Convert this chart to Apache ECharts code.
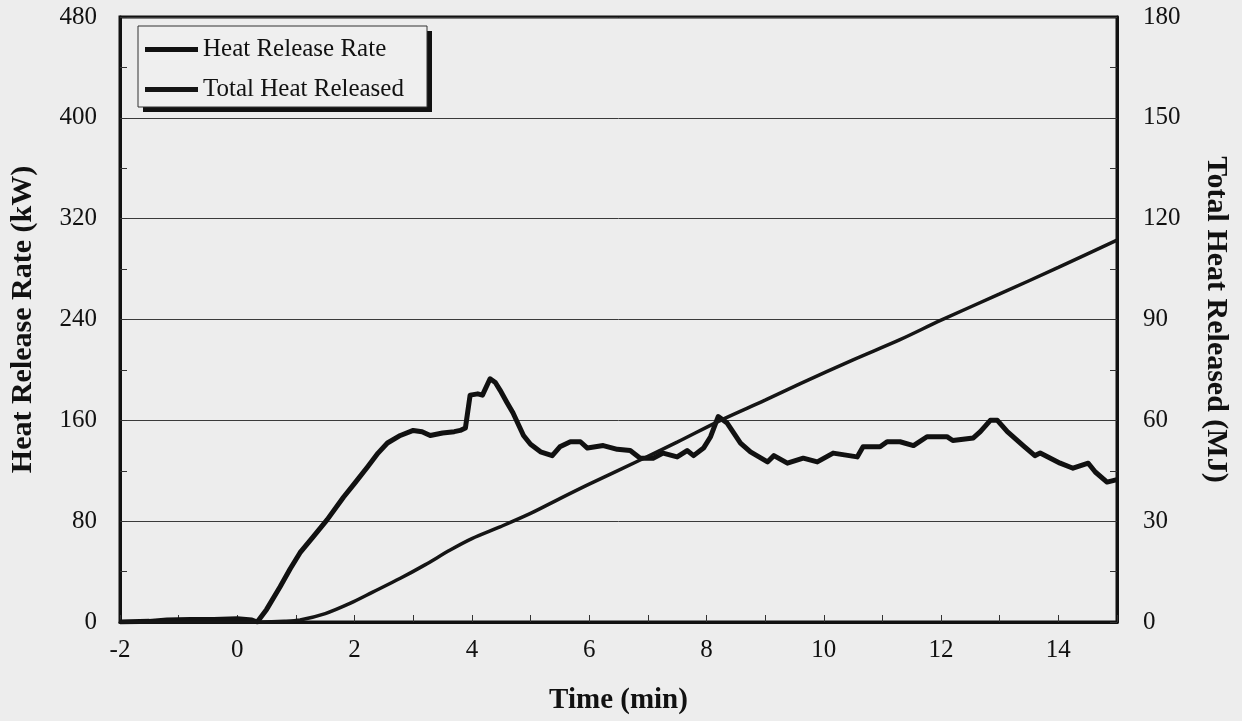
<!DOCTYPE html>
<html><head><meta charset="utf-8">
<script src="https://cdn.jsdelivr.net/npm/echarts@6/dist/echarts.min.js"></script>
<style>html,body{margin:0;padding:0;background:#ededed;}#c{width:1242px;height:721px;}</style>
</head><body><div id="c"></div>
<script>
// Heat Release Rate (kW) vs time (min)
const hrrTime = [-2.0,-1.5,-1.2,-0.8,-0.4,0.0,0.25,0.34,0.5,0.73,0.9,1.07,1.3,1.53,1.81,2.0,2.22,2.4,2.56,2.78,3.0,3.15,3.29,3.5,3.7,3.8,3.89,3.97,4.1,4.18,4.31,4.4,4.48,4.6,4.7,4.88,5.0,5.17,5.37,5.5,5.68,5.85,5.97,6.24,6.48,6.7,6.87,7.09,7.26,7.5,7.67,7.78,7.95,8.07,8.2,8.35,8.58,8.75,9.04,9.15,9.38,9.65,9.89,10.16,10.57,10.67,10.96,11.08,11.3,11.53,11.76,12.1,12.2,12.55,12.67,12.84,12.96,13.13,13.4,13.6,13.69,14.03,14.25,14.51,14.63,14.83,15.0];
const hrrValue = [0,0.5,1.5,2,2,2.5,1.5,0,10,28,42,55,68,81,99,110,123,134,142,148,152,151,148,150,151,152,154,180,181,180,193,190,184,174,166,148,141,135,132,139,143,143,138,140,137,136,130,130,134,131,136,132,138,147,163,158,142,135,127,132,126,130,127,134,131,139,139,143,143,140,147,147,144,146,151,160,160,151,140,132,134,126,122,126,119,111,113];
// Total Heat Released (MJ) vs time (min)
const thrTime = [-2.0,0.4,0.8,1.07,1.5,1.93,2.3,2.78,3.2,3.63,4.0,4.48,5.0,5.5,6.0,6.87,7.5,8.24,9.0,9.6,10.5,11.3,12.0,13.0,14.0,15.0];
const thrValue = [0,0,0.2,0.6,2.5,5.6,8.8,13,17,21.4,24.8,28.3,32.3,36.7,41,48.2,53.5,60,66,70.9,78,84,89.8,97.6,105.5,113.6];
const seriesNames = ['Heat Release Rate','Total Heat Released'];

const font = '"Liberation Serif", "DejaVu Serif", serif';
const chart = echarts.init(document.getElementById('c'));
chart.setOption({
  backgroundColor: '#ededed',
  animation: false,
  grid: {left:120, right:125, top:17, bottom:99, show:true, borderColor:'#111', borderWidth:3, backgroundColor:'transparent'},
  graphic: [
    {type:'rect', z:1, shape:{x:143, y:31, width:289, height:81}, style:{fill:'#111'}},
    {type:'rect', z:2, shape:{x:138, y:26, width:289, height:81}, style:{fill:'#efefef', stroke:'#333', lineWidth:1}}
  ],
  legend: {
    left:138, top:26, orient:'vertical', data: seriesNames, z:10,
    padding:[11,12,5,7], itemGap:15, itemWidth:53, itemHeight:5, icon:'rect',
    textStyle:{fontFamily:font, fontSize:25, color:'#111'}
  },
  xAxis: {
    type:'value', min:-2, max:15, interval:2,
    name:'Time (min)', nameLocation:'middle', nameGap:64,
    nameTextStyle:{fontFamily:font, fontSize:29, fontWeight:'bold', color:'#111'},
    axisLine:{show:true, onZero:false, lineStyle:{color:'#111', width:3}},
    axisTick:{show:true, inside:true, length:7, lineStyle:{color:'#333', width:1}},
    minorTick:{show:true, splitNumber:2, length:7, lineStyle:{color:'#333', width:1}},
    axisLabel:{fontFamily:font, fontSize:25, color:'#111', margin:16, showMaxLabel:false},
    splitLine:{show:false}
  },
  yAxis: [{
    type:'value', min:0, max:480, interval:80, position:'left',
    name:'Heat Release Rate (kW)', nameLocation:'middle', nameGap:82, nameRotate:90,
    nameTextStyle:{fontFamily:font, fontSize:30, fontWeight:'bold', color:'#111'},
    axisLine:{show:true, onZero:false, lineStyle:{color:'#111', width:3}},
    axisTick:{show:true, inside:true, length:7, lineStyle:{color:'#333', width:1}},
    minorTick:{show:true, splitNumber:2, length:7, lineStyle:{color:'#333', width:1}},
    axisLabel:{fontFamily:font, fontSize:25, color:'#111', margin:23},
    splitLine:{show:true, lineStyle:{color:'#3a3a3a', width:1}}
  },{
    type:'value', min:0, max:180, interval:30, position:'right',
    name:'Total Heat Released (MJ)', nameLocation:'middle', nameGap:84, nameRotate:-90,
    nameTextStyle:{fontFamily:font, fontSize:30, fontWeight:'bold', color:'#111'},
    axisLine:{show:true, onZero:false, lineStyle:{color:'#111', width:3}},
    axisTick:{show:true, inside:true, length:7, lineStyle:{color:'#333', width:1}},
    minorTick:{show:true, splitNumber:2, length:7, lineStyle:{color:'#333', width:1}},
    axisLabel:{fontFamily:font, fontSize:25, color:'#111', margin:26},
    splitLine:{show:false}
  }],
  series: [{
    name: seriesNames[0], type:'line', yAxisIndex:0, symbol:'none', smooth:false,
    lineStyle:{color:'#111', width:5, join:'round'}, itemStyle:{color:'#111'},
    data: hrrTime.map((t,i)=>[t, hrrValue[i]])
  },{
    name: seriesNames[1], type:'line', yAxisIndex:1, symbol:'none', smooth:0.3,
    lineStyle:{color:'#151515', width:3.5}, itemStyle:{color:'#151515'},
    data: thrTime.map((t,i)=>[t, thrValue[i]])
  }]
});
</script></body></html>
